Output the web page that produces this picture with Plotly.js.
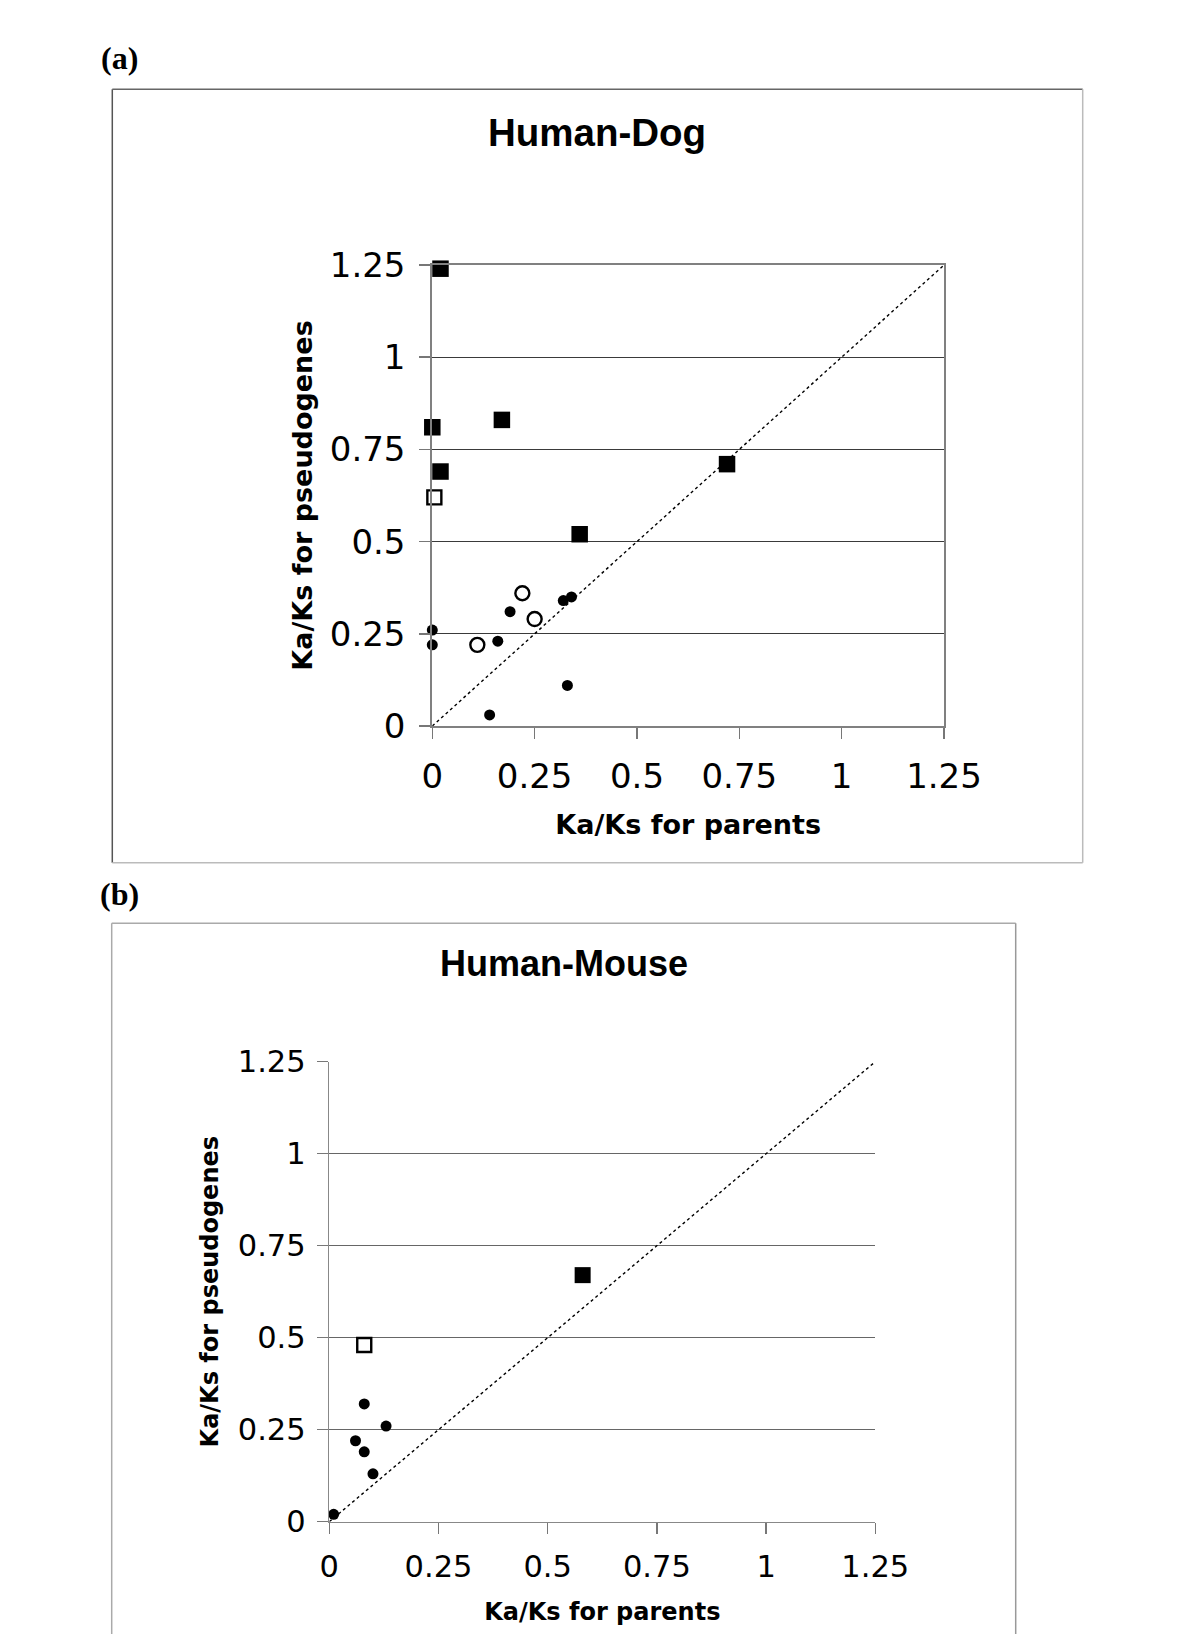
<!DOCTYPE html>
<html>
<head>
<meta charset="utf-8">
<script src="https://cdn.plot.ly/plotly-3.0.1.min.js"></script>
<style>html,body{margin:0;padding:0;background:#fff;}#chart{width:1200px;height:1634px;}</style>
</head>
<body>
<div id="chart"></div>
<script>
// ---------- data ----------
const tickValues = [0, 0.25, 0.5, 0.75, 1, 1.25];
const tickLabels = ["0", "0.25", "0.5", "0.75", "1", "1.25"];
const diagLine = [0, 1.25];

// (a) Human-Dog
const hdFilledSqX = [0.02, 0.00, 0.17, 0.02, 0.72, 0.36];
const hdFilledSqY = [1.24, 0.81, 0.83, 0.69, 0.71, 0.52];
const hdOpenSqX = [0.005];
const hdOpenSqY = [0.62];
const hdOpenCircX = [0.22, 0.25, 0.11];
const hdOpenCircY = [0.36, 0.29, 0.22];
const hdDotX = [0.00, 0.00, 0.16, 0.19, 0.32, 0.34, 0.33, 0.14];
const hdDotY = [0.26, 0.22, 0.23, 0.31, 0.34, 0.35, 0.11, 0.03];

// (b) Human-Mouse
const hmFilledSqX = [0.58];
const hmFilledSqY = [0.67];
const hmOpenSqX = [0.08];
const hmOpenSqY = [0.48];
const hmDotX = [0.08, 0.13, 0.06, 0.08, 0.10, 0.01];
const hmDotY = [0.32, 0.26, 0.22, 0.19, 0.13, 0.02];

// ---------- helpers ----------
const W = 1200, H = 1634;
const px = v => v / W;
const py = v => 1 - v / H;

function mk(x, y, xa, ya, marker) {
  return {x: x, y: y, xaxis: xa, yaxis: ya, type: 'scatter', mode: 'markers',
          marker: marker, cliponaxis: false, showlegend: false, hoverinfo: 'skip'};
}
const sqFill = s => ({symbol: 'square', size: s, color: '#000'});
const sqOpen = s => ({symbol: 'square-open', size: s, color: '#000', line: {width: 2.4, color: '#000'}});
const circOpen = s => ({symbol: 'circle-open', size: s, color: '#000', line: {width: 2.4, color: '#000'}});
const dot = s => ({symbol: 'circle', size: s, color: '#000'});

const traces = [
  {x: diagLine, y: diagLine, xaxis: 'x', yaxis: 'y', type: 'scatter', mode: 'lines',
   line: {color: '#000', width: 1.4, dash: 'dot'}, showlegend: false, hoverinfo: 'skip'},
  mk(hdDotX, hdDotY, 'x', 'y', dot(11)),
  mk(hdOpenCircX, hdOpenCircY, 'x', 'y', circOpen(14)),
  mk(hdOpenSqX, hdOpenSqY, 'x', 'y', sqOpen(14)),
  mk(hdFilledSqX, hdFilledSqY, 'x', 'y', sqFill(16.5)),

  {x: diagLine, y: diagLine, xaxis: 'x2', yaxis: 'y2', type: 'scatter', mode: 'lines',
   line: {color: '#000', width: 1.4, dash: 'dot'}, showlegend: false, hoverinfo: 'skip'},
  mk(hmDotX, hmDotY, 'x2', 'y2', dot(11)),
  mk(hmOpenSqX, hmOpenSqY, 'x2', 'y2', sqOpen(14)),
  mk(hmFilledSqX, hmFilledSqY, 'x2', 'y2', sqFill(16))
];

const tickFontA = {family: 'DejaVu Sans, Verdana, sans-serif', size: 34, color: '#000'};
const tickFontB = {family: 'DejaVu Sans, Verdana, sans-serif', size: 30.5, color: '#000'};
const axTitleA = {family: 'DejaVu Sans, Verdana, sans-serif', size: 27, color: '#000', weight: 'bold'};
const axTitleB = {family: 'DejaVu Sans, Verdana, sans-serif', size: 24, color: '#000', weight: 'bold'};

function axis(domain, font, titleText, titleFont, standoff, opts) {
  return Object.assign({
    domain: domain, range: [0, 1.25], autorange: false,
    tickmode: 'array', tickvals: tickValues, ticktext: tickLabels,
    tickfont: font, ticks: 'outside', ticklen: 11, tickwidth: 1.5, tickcolor: '#777',
    showline: true, zeroline: false, fixedrange: true,
    title: {text: titleText, font: titleFont, standoff: standoff}
  }, opts);
}

const layout = {
  width: W, height: H,
  margin: {l: 0, r: 0, t: 0, b: 0},
  paper_bgcolor: '#fff', plot_bgcolor: '#fff',
  showlegend: false,
  xaxis: axis([px(432.3), px(944)], tickFontA, 'Ka/Ks for parents', axTitleA, 20,
    {anchor: 'y', showgrid: false, linecolor: '#808080', linewidth: 2, mirror: true, ticklabelstandoff: 8}),
  yaxis: axis([py(726), py(265)], tickFontA, 'Ka/Ks for pseudogenes', axTitleA, 9,
    {anchor: 'x', showgrid: true, gridcolor: '#3a3a3a', gridwidth: 1, linecolor: '#808080', linewidth: 2, mirror: true, ticklabelstandoff: 7}),
  xaxis2: axis([px(329.3), px(875.3)], tickFontB, 'Ka/Ks for parents', axTitleB, 20,
    {anchor: 'y2', showgrid: false, linecolor: '#888', linewidth: 1.5, ticklabelstandoff: 6}),
  yaxis2: axis([py(1521.7), py(1061.7)], tickFontB, 'Ka/Ks for pseudogenes', axTitleB, 12,
    {anchor: 'x2', showgrid: true, gridcolor: '#666', gridwidth: 1, linecolor: '#888', linewidth: 1.5, ticklabelstandoff: 5}),
  shapes: [
    // frame (a)
    {type: 'line', xref: 'paper', yref: 'paper', x0: px(112.3), x1: px(112.3), y0: py(89.3), y1: py(862.7), line: {color: '#555', width: 1.5}},
    {type: 'line', xref: 'paper', yref: 'paper', x0: px(112.3), x1: px(1082.7), y0: py(89.3), y1: py(89.3), line: {color: '#666', width: 1.5}},
    {type: 'line', xref: 'paper', yref: 'paper', x0: px(1082.7), x1: px(1082.7), y0: py(89.3), y1: py(862.7), line: {color: '#bbb', width: 1.5}},
    {type: 'line', xref: 'paper', yref: 'paper', x0: px(112.3), x1: px(1082.7), y0: py(862.7), y1: py(862.7), line: {color: '#bbb', width: 1.5}},
    // frame (b)
    {type: 'line', xref: 'paper', yref: 'paper', x0: px(111.7), x1: px(111.7), y0: py(923.3), y1: py(1640), line: {color: '#aaa', width: 1.5}},
    {type: 'line', xref: 'paper', yref: 'paper', x0: px(111.7), x1: px(1015.7), y0: py(923.3), y1: py(923.3), line: {color: '#aaa', width: 1.5}},
    {type: 'line', xref: 'paper', yref: 'paper', x0: px(1015.7), x1: px(1015.7), y0: py(923.3), y1: py(1640), line: {color: '#999', width: 1.5}}
  ],
  annotations: [
    {text: '(a)', xref: 'paper', yref: 'paper', x: px(119), y: py(58), xanchor: 'center', yanchor: 'middle', showarrow: false,
     font: {family: 'Liberation Serif, Times New Roman, serif', size: 32, color: '#000', weight: 'bold'}},
    {text: '(b)', xref: 'paper', yref: 'paper', x: px(119), y: py(894), xanchor: 'center', yanchor: 'middle', showarrow: false,
     font: {family: 'Liberation Serif, Times New Roman, serif', size: 32, color: '#000', weight: 'bold'}},
    {text: 'Human-Dog', xref: 'paper', yref: 'paper', x: px(597), y: py(132), xanchor: 'center', yanchor: 'middle', showarrow: false,
     font: {family: 'Liberation Sans, Arial, sans-serif', size: 38.5, color: '#000', weight: 'bold'}},
    {text: 'Human-Mouse', xref: 'paper', yref: 'paper', x: px(563.5), y: py(963.5), xanchor: 'center', yanchor: 'middle', showarrow: false,
     font: {family: 'Liberation Sans, Arial, sans-serif', size: 36, color: '#000', weight: 'bold'}}
  ]
};

Plotly.newPlot('chart', traces, layout, {staticPlot: true, displayModeBar: false});
</script>
</body>
</html>
